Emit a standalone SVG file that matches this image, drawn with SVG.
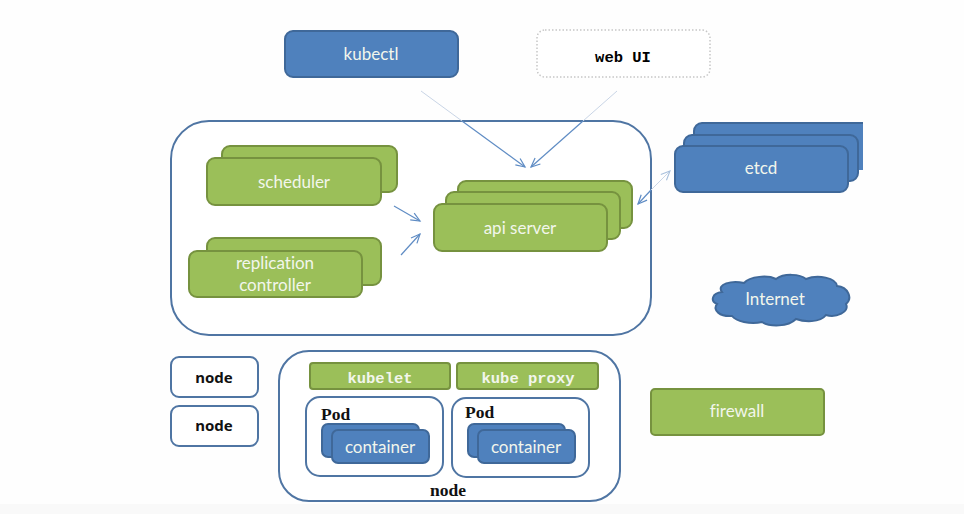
<svg xmlns="http://www.w3.org/2000/svg" width="964" height="514" viewBox="0 0 964 514">
<style>
.g{fill:#9bbf59;stroke:#76923f;stroke-width:2}
.b{fill:#4f81bd;stroke:#3f6899;stroke-width:2}
.o{fill:#fff;stroke:#4f75a3;stroke-width:2}
.t{font-family:"Lato","Open Sans",sans-serif;font-size:17px;fill:#f2f6ec;text-anchor:middle;font-variant-ligatures:none}
.n{font-family:"Noto Sans","Open Sans",sans-serif;font-size:15px;font-weight:700;fill:#111;text-anchor:middle}
.m{font-family:"Liberation Mono",monospace;font-size:15.5px;font-weight:700;text-anchor:middle}
.s{font-family:"Liberation Serif",serif;font-size:17.5px;font-weight:700;fill:#111}
.a{fill:none;stroke:#5f8cc4;stroke-width:1.2}
.f{fill:none;stroke:#c9d5e6;stroke-width:1}
</style>
<defs>
<marker id="h" markerWidth="12" markerHeight="10" refX="10" refY="5" orient="auto" markerUnits="userSpaceOnUse"><path d="M1 1L10 5L1 9" fill="none" stroke="#5f8cc4" stroke-width="1.2"/></marker>
<marker id="hl" markerWidth="12" markerHeight="10" refX="10" refY="5" orient="auto" markerUnits="userSpaceOnUse"><path d="M1 1L10 5L1 9" fill="none" stroke="#a9c0dc" stroke-width="1.1"/></marker>
</defs>
<rect width="964" height="514" fill="#fefefe"/>
<rect y="504" width="964" height="10" fill="#f9f9f9"/>
<g id="master"><rect class="o" x="171" y="121" width="480" height="214" rx="38"/></g>
<g id="kubectl"><rect class="b" x="285" y="31" width="173" height="46" rx="8"/><text class="t" x="371" y="60">kubectl</text></g>
<g id="webui"><rect x="537" y="30" width="173" height="47" rx="8" fill="#fff" stroke="#c6c6c6" stroke-width="1.5" stroke-dasharray="1.5 2"/><text class="m" x="623" y="62">web UI</text></g>
<g id="scheduler"><rect class="g" x="222" y="146" width="175" height="46" rx="8"/><rect class="g" x="207" y="158" width="174" height="47" rx="8"/><text class="t" x="294" y="188">scheduler</text></g>
<g id="replication-controller"><rect class="g" x="207" y="238" width="174" height="47" rx="8"/><rect class="g" x="189" y="251" width="173" height="46" rx="8"/><text class="t" x="275" y="269">replication</text><text class="t" x="275" y="291">controller</text></g>
<g id="api-server"><rect class="g" x="458" y="181" width="174" height="47" rx="8"/><rect class="g" x="446" y="192" width="174" height="47" rx="8"/><rect class="g" x="434" y="204" width="173" height="47" rx="8"/><text class="t" x="520" y="234">api server</text></g>
<g id="etcd"><path d="M863 123H702a8 8 0 0 0-8 8V170H863Z" fill="#4f81bd"/><path d="M863 123H702a8 8 0 0 0-8 8V170" fill="none" stroke="#3f6899" stroke-width="2"/><rect class="b" x="684" y="135" width="174" height="46" rx="8"/><rect class="b" x="675" y="146" width="173" height="46" rx="8"/><text class="t" x="761" y="174">etcd</text></g>
<g id="internet"><path class="b" stroke-width="1.5" d="M722 292C716 284 732 280 744 283C750 276 768 275 776 279C784 273 800 274 806 279C818 274 836 278 837 286C848 287 853 298 846 304C850 312 836 318 826 315C820 323 804 322 796 319C788 327 770 327 762 322C750 325 736 321 732 316C720 317 712 310 717 304C710 301 712 293 722 292Z"/><text class="t" x="775" y="305">Internet</text></g>
<g id="firewall"><rect class="g" x="651" y="389" width="173" height="46" rx="4"/><text class="t" x="737" y="417">firewall</text></g>
<g id="node-a"><rect class="o" x="171" y="357" width="87" height="40" rx="8"/><text class="n" x="214" y="383">node</text></g>
<g id="node-b"><rect class="o" x="171" y="406" width="87" height="40" rx="8"/><text class="n" x="214" y="431">node</text></g>
<g id="node-c"><rect class="o" x="279" y="351" width="341" height="150" rx="30"/><text class="s" x="448" y="496" text-anchor="middle">node</text></g>
<g id="kubelet"><rect class="g" x="310" y="363" width="140" height="26" rx="3"/><text class="m" x="380" y="383" style="fill:#f2f6ec">kubelet</text></g>
<g id="kube-proxy"><rect class="g" x="457" y="363" width="141" height="26" rx="3"/><text class="m" x="528" y="383" style="fill:#f2f6ec">kube proxy</text></g>
<g id="pod-a"><rect class="o" x="306" y="397" width="137" height="79" rx="14"/><text class="s" x="321" y="420">Pod</text><rect class="b" x="322" y="424" width="97" height="33" rx="6"/><rect class="b" x="332" y="430" width="97" height="33" rx="6"/><text class="t" x="380" y="453">container</text></g>
<g id="pod-b"><rect class="o" x="452" y="398" width="137" height="79" rx="14"/><text class="s" x="465" y="418">Pod</text><rect class="b" x="468" y="424" width="97" height="33" rx="6"/><rect class="b" x="478" y="430" width="97" height="33" rx="6"/><text class="t" x="526" y="453">container</text></g>
<g id="connectors">
<line class="f" x1="421" y1="91" x2="462" y2="121"/><line class="a" x1="462" y1="121" x2="525" y2="167" marker-end="url(#h)"/>
<line class="f" x1="617" y1="91" x2="583" y2="121"/><line class="a" x1="583" y1="121" x2="531" y2="167" marker-end="url(#h)"/>
<line class="a" x1="394" y1="206" x2="420" y2="221" marker-end="url(#h)"/>
<line class="a" x1="401" y1="255" x2="420" y2="234" marker-end="url(#h)"/>
<line class="f" x1="651" y1="190" x2="670" y2="171" marker-end="url(#hl)"/>
<line class="a" x1="651" y1="190" x2="638" y2="204" marker-end="url(#h)"/>
</g>
</svg>
